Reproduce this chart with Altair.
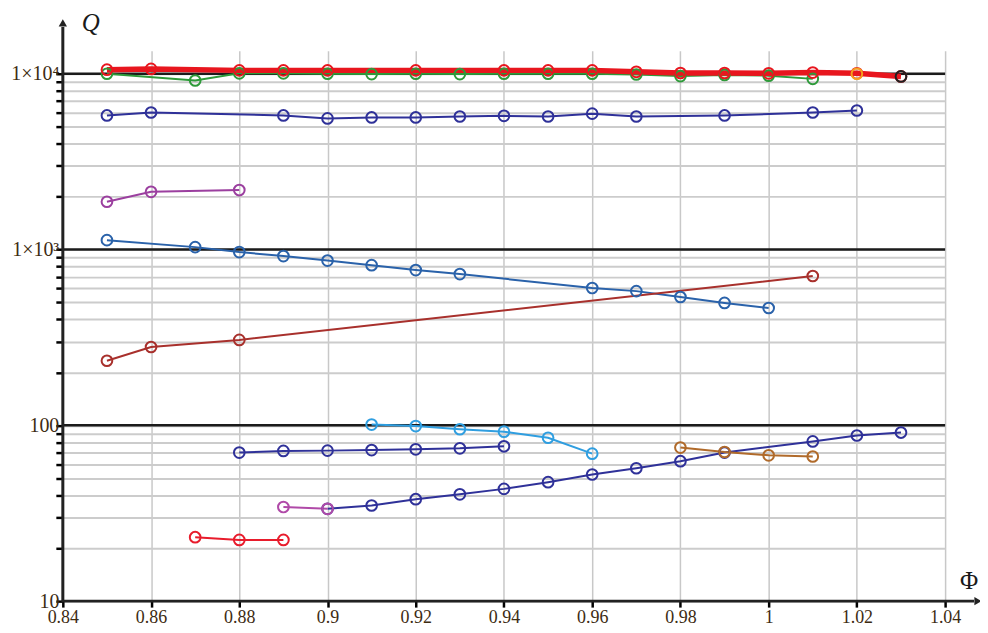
import altair as alt
import pandas as pd

# ---------------- data ----------------
phi_red = [0.85, 0.86, 0.88, 0.89, 0.90, 0.92, 0.94, 0.95, 0.96, 0.97, 0.98, 0.99, 1.00, 1.01, 1.02, 1.03]
q_red = [10550, 10650, 10450, 10450, 10450, 10450, 10450, 10450, 10450, 10250, 10100, 10100, 10050, 10150, 10050, 9650]

phi_green = [0.85, 0.87, 0.88, 0.89, 0.90, 0.91, 0.92, 0.93, 0.94, 0.95, 0.96, 0.97, 0.98, 0.99, 1.00, 1.01]
q_green = [10000, 9150, 10050, 10050, 10000, 9950, 10000, 9950, 10000, 10000, 10000, 9900, 9700, 9850, 9750, 9350]

phi_orange = [1.02]
q_orange = [10000]

phi_black = [1.03]
q_black = [9650]

phi_navy1 = [0.85, 0.86, 0.89, 0.90, 0.91, 0.92, 0.93, 0.94, 0.95, 0.96, 0.97, 0.99, 1.01, 1.02]
q_navy1 = [5790, 6020, 5790, 5570, 5640, 5640, 5710, 5760, 5710, 5930, 5710, 5790, 6020, 6180]

phi_purple = [0.85, 0.86, 0.88]
q_purple = [1870, 2130, 2180]

phi_steel = [0.85, 0.87, 0.88, 0.89, 0.90, 0.91, 0.92, 0.93, 0.96, 0.97, 0.98, 0.99, 1.00]
q_steel = [1131, 1032, 967, 918, 865, 815, 764, 725, 604, 580, 537, 497, 465]

phi_darkred = [0.85, 0.86, 0.88, 1.01]
q_darkred = [233, 279, 306, 707]

phi_light = [0.91, 0.92, 0.93, 0.94, 0.95, 0.96]
q_light = [101, 99, 95, 92, 85, 69]

phi_navy2 = [0.88, 0.89, 0.90, 0.91, 0.92, 0.93, 0.94]
q_navy2 = [70, 71.5, 71.8, 72.3, 73, 74, 76]

phi_navy3 = [0.90, 0.91, 0.92, 0.93, 0.94, 0.95, 0.96, 0.97, 0.98, 0.99, 1.01, 1.02, 1.03]
q_navy3 = [33.5, 35, 38, 40.5, 43.5, 47.5, 52.5, 57, 62.5, 70, 81, 87.5, 91]

phi_magenta = [0.89, 0.90]
q_magenta = [34.3, 33.5]

phi_redlow = [0.87, 0.88, 0.89]
q_redlow = [23.1, 22.3, 22.3]

phi_brown = [0.98, 0.99, 1.00, 1.01]
q_brown = [74.7, 70.5, 67.5, 66.5]

major_q = [100, 1000, 10000]
x_ticks = [0.84, 0.86, 0.88, 0.9, 0.92, 0.94, 0.96, 0.98, 1.0, 1.02, 1.04]
y_ticks = [10, 20, 30, 40, 50, 60, 70, 80, 90,
           100, 200, 300, 400, 500, 600, 700, 800, 900,
           1000, 2000, 3000, 4000, 5000, 6000, 7000, 8000, 9000, 10000]

series = [
    ("green", phi_green, q_green, "#2e9a3a"),
    ("navy1", phi_navy1, q_navy1, "#2f3199"),
    ("purple", phi_purple, q_purple, "#9b3f9f"),
    ("steel", phi_steel, q_steel, "#2a62aa"),
    ("darkred", phi_darkred, q_darkred, "#a8302c"),
    ("light", phi_light, q_light, "#2f9ee0"),
    ("navy2", phi_navy2, q_navy2, "#2f3199"),
    ("navy3", phi_navy3, q_navy3, "#2f3199"),
    ("magenta", phi_magenta, q_magenta, "#b04aa8"),
    ("redlow", phi_redlow, q_redlow, "#e81c2c"),
    ("brown", phi_brown, q_brown, "#b06a2a"),
    ("red", phi_red, q_red, "#e8161e"),
    ("orange", phi_orange, q_orange, "#f5a020"),
    ("black", phi_black, q_black, "#202020"),
]

rows = []
for name, xs, ys, _ in series:
    for a, b in zip(xs, ys):
        rows.append({"series": name, "phi": a, "q": b})
df = pd.DataFrame(rows)
names = [s[0] for s in series]
colors = [s[3] for s in series]

W, H = 885, 552
SERIF = "Liberation Serif"
LABEL_COLOR = "#3d2b12"

xscale = alt.Scale(domain=[0.84, 1.04], nice=False, zero=False)
yscale = alt.Scale(type="log", domain=[10, 13500], nice=False)
cscale = alt.Scale(domain=names, range=colors)

x_axis = alt.Axis(values=x_ticks, grid=True, gridColor="#c8c8c8", gridWidth=1.5,
                  domain=False, ticks=True, tickColor="black", tickSize=6, tickWidth=2.5,
                  labelExpr="'' + datum.value", labelFont=SERIF, labelFontSize=18,
                  labelColor=LABEL_COLOR, labelPadding=1, labelFlush=False,
                  labelOverlap=False, title=None)
y_axis = alt.Axis(values=y_ticks, grid=True, gridColor="#cccccc", gridWidth=2,
                  domain=False, ticks=True, tickColor="black", tickSize=7, tickWidth=2.5,
                  labelExpr="datum.value == 10000 ? '1×10⁴' : datum.value == 1000 ? '1×10³' : datum.value == 100 ? '100' : datum.value == 10 ? '10' : ''",
                  labelFont=SERIF, labelFontSize=20, labelColor=LABEL_COLOR,
                  labelPadding=-3, labelOverlap=False, labelFlush=False, title=None)

base = alt.Chart(df)

# grid / axes carrier layer (invisible points)
carrier = base.mark_point(opacity=0).encode(
    x=alt.X("phi:Q", scale=xscale, axis=x_axis),
    y=alt.Y("q:Q", scale=yscale, axis=y_axis),
)

major = alt.Chart(pd.DataFrame({"q": major_q})).mark_rule(color="#1b1b1b", strokeWidth=2.5).encode(
    y=alt.Y("q:Q", scale=yscale),
    x=alt.value(0), x2=alt.value(W),
)

lines = base.transform_filter("datum.series != 'red'").mark_line(strokeWidth=2).encode(
    x=alt.X("phi:Q", scale=xscale),
    y=alt.Y("q:Q", scale=yscale),
    color=alt.Color("series:N", scale=cscale, legend=None),
    detail="series:N",
)

red_line = base.transform_filter("datum.series == 'red'").mark_line(strokeWidth=5.5, color="#e8161e").encode(
    x=alt.X("phi:Q", scale=xscale),
    y=alt.Y("q:Q", scale=yscale),
)

points = base.mark_point(shape="circle", filled=False, size=115, strokeWidth=2, opacity=1).encode(
    x=alt.X("phi:Q", scale=xscale),
    y=alt.Y("q:Q", scale=yscale),
    color=alt.Color("series:N", scale=cscale, legend=None),
)

dummy = alt.Chart(pd.DataFrame({"d": [0]}))
y_axis_line = dummy.mark_rule(color="#222222", strokeWidth=3).encode(
    x=alt.value(0), y=alt.value(-24), y2=alt.value(H + 1))
x_axis_line = dummy.mark_rule(color="#222222", strokeWidth=3).encode(
    x=alt.value(-1), x2=alt.value(914), y=alt.value(H))
y_arrow = dummy.mark_point(shape="triangle-up", filled=True, size=70, color="#222222", opacity=1).encode(
    x=alt.value(0), y=alt.value(-28))
x_arrow = dummy.mark_point(shape="triangle-right", filled=True, size=70, color="#222222", opacity=1).encode(
    x=alt.value(918), y=alt.value(H))
q_title = dummy.mark_text(text="Q", font=SERIF, fontStyle="italic", fontSize=25, color="#1a1a1a").encode(
    x=alt.value(28), y=alt.value(-28))
phi_title = dummy.mark_text(text="Φ", font=SERIF, fontSize=25, color="#1a1a1a").encode(
    x=alt.value(909), y=alt.value(532))

chart = alt.layer(
    carrier, major, lines, red_line, points,
    y_axis_line, x_axis_line, y_arrow, x_arrow, q_title, phi_title,
).properties(
    width=W, height=H,
    padding={"left": 55, "top": 42, "right": 35, "bottom": 27},
    autosize=alt.AutoSizeParams(type="none"),
    background="white",
).configure_view(stroke=None)

chart.save("out.html", embed_options={"renderer": "svg", "actions": False})
